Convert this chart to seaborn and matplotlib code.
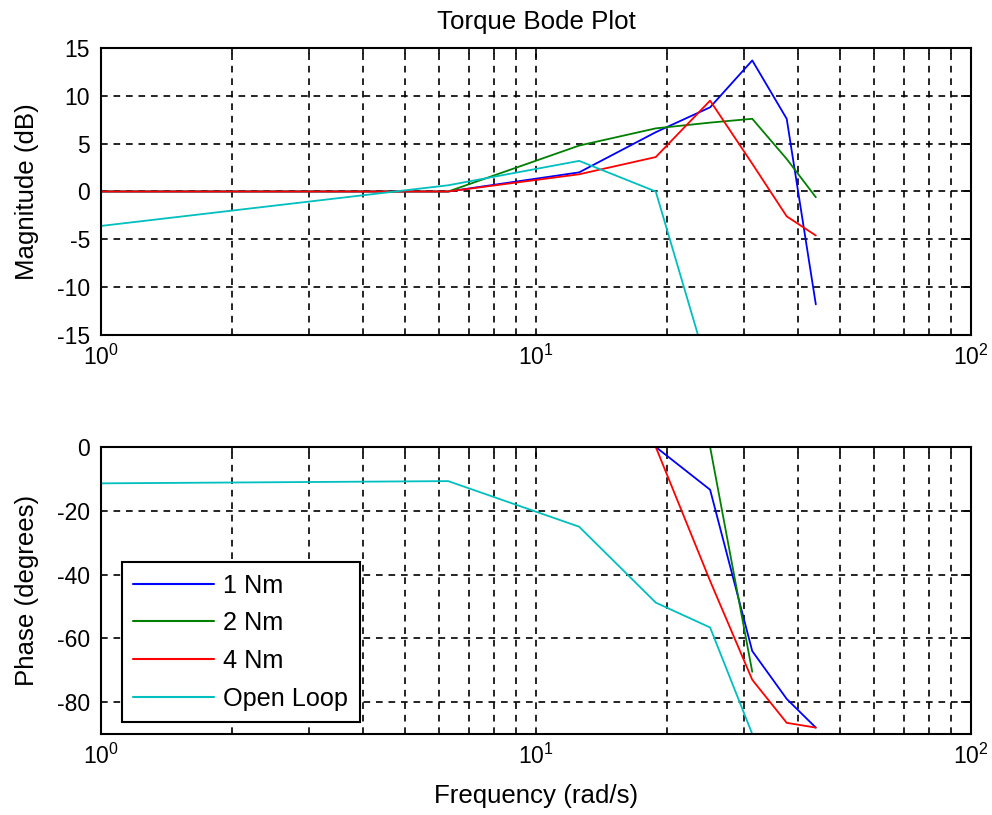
import numpy as np
import pandas as pd
import matplotlib
matplotlib.use("Agg")
import matplotlib.pyplot as plt
import matplotlib.ticker as mticker
import seaborn as sns

# ---- data ----
freq = [1.0, 6.2832, 12.566, 18.850, 25.133, 31.416, 37.699, 43.982]
series = ["1 Nm", "2 Nm", "4 Nm", "Open Loop"]
mag_1nm = [0.0, 0.0, 2.0, 6.2, 8.8, 13.7, 7.6, -11.8]
mag_2nm = [0.0, 0.0, 4.8, 6.6, 7.2, 7.6, 3.4, -0.6]
mag_4nm = [0.0, 0.0, 1.8, 3.6, 9.5, 2.9, -2.6, -4.6]
mag_open = [-3.6, 0.65, 3.2, 0.0, -19.3, np.nan, np.nan, np.nan]
ph_1nm = [0.0, 0.0, 0.0, 0.0, -13.4, -64.0, -79.0, -88.0]
ph_2nm = [0.0, 0.0, 0.0, 0.0, 0.0, -70.5, np.nan, np.nan]
ph_4nm = [0.0, 0.0, 0.0, 0.0, -42.0, -73.0, -86.5, -88.0]
ph_open = [-11.4, -10.7, -25.0, -48.8, -56.6, -90.0, -90.0, -90.0]
mag_ticks = [-15, -10, -5, 0, 5, 10, 15]
ph_ticks = [-80, -60, -40, -20, 0]
colors = ["#0000ff", "#008000", "#ff0000", "#00bfbf"]

rows = []
for name, m, p in zip(series, [mag_1nm, mag_2nm, mag_4nm, mag_open],
                      [ph_1nm, ph_2nm, ph_4nm, ph_open]):
    for f, mv, pv in zip(freq, m, p):
        rows.append({"freq": f, "mag": mv, "phase": pv, "series": name})
df = pd.DataFrame(rows)

sns.set_style("white")
plt.rcParams["font.family"] = ["Liberation Sans", "DejaVu Sans"]
plt.rcParams["mathtext.fontset"] = "custom"
plt.rcParams["mathtext.rm"] = "Liberation Sans"
plt.rcParams["mathtext.it"] = "Liberation Sans"
plt.rcParams["axes.unicode_minus"] = False
plt.rcParams["text.color"] = "black"
plt.rcParams["axes.labelcolor"] = "black"
plt.rcParams["xtick.color"] = "black"
plt.rcParams["ytick.color"] = "black"

W, H = 992, 815
fig = plt.figure(figsize=(W / 100, H / 100), dpi=100)
L, R = 101, 971
ax1 = fig.add_axes([L / W, (H - 335) / H, (R - L) / W, 287 / H])
ax2 = fig.add_axes([L / W, (H - 734) / H, (R - L) / W, 287 / H])

pal = dict(zip(series, colors))
for ax, col in [(ax1, "mag"), (ax2, "phase")]:
    sns.lineplot(data=df.dropna(subset=[col]), x="freq", y=col, hue="series",
                 hue_order=series, palette=pal, estimator=None, sort=False,
                 linewidth=1.3, ax=ax, legend=(ax is ax2))

tick_fs = 16.5
lab_fs = 18.6
leg_fs = 18.2
fmt = mticker.FuncFormatter(lambda v, p: r"$\mathregular{10^{%d}}$" % round(np.log10(v)))
for ax in (ax1, ax2):
    ax.set_xscale("log")
    ax.set_xlim(1, 100)
    ax.xaxis.set_major_locator(mticker.FixedLocator([1, 10, 100]))
    ax.xaxis.set_major_formatter(fmt)
    ax.xaxis.set_minor_locator(mticker.LogLocator(base=10, subs=np.arange(2, 10), numticks=20))
    ax.xaxis.set_minor_formatter(mticker.NullFormatter())
    ax.grid(True, which="major", axis="both", color="black", linestyle=(0, (4, 3.5)), linewidth=1.2)
    ax.grid(True, which="minor", axis="x", color="black", linestyle=(0, (4, 3.5)), linewidth=1.2)
    ax.tick_params(which="both", direction="in", top=True, right=True, labelsize=tick_fs,
                   colors="black", width=1.2)
    ax.tick_params(which="major", length=7)
    ax.tick_params(which="minor", length=4)
    ax.tick_params(axis="x", pad=7)
    ax.tick_params(axis="y", pad=8)
    for s in ax.spines.values():
        s.set_color("black")
        s.set_linewidth(1.5)
    ax.set_axisbelow(True)

ax1.set_ylim(-15, 15)
ax1.set_yticks(mag_ticks)
ax2.set_ylim(-90, 0)
ax2.set_yticks(ph_ticks)

ax1.set_xlabel("")
ax1.set_ylabel("Magnitude (dB)", fontsize=lab_fs)
ax2.set_ylabel("Phase (degrees)", fontsize=lab_fs)
ax2.set_xlabel("Frequency (rad/s)", fontsize=lab_fs)
ax1.yaxis.set_label_coords(-0.071, 0.5)
ax2.yaxis.set_label_coords(-0.071, 0.5)
ax2.xaxis.set_label_coords(0.5, -0.175)
ax1.set_title("Torque Bode Plot", fontsize=lab_fs, pad=14)

leg = ax2.legend(loc="lower left", bbox_to_anchor=((122 - L) / (R - L), (734 - 722) / 287),
                 borderaxespad=0, fontsize=leg_fs, frameon=True, fancybox=False,
                 framealpha=1, edgecolor="black", handlelength=3.2, handletextpad=0.36,
                 labelspacing=0.54, borderpad=0.45, title=None)
leg.get_frame().set_linewidth(1.5)
for line in leg.get_lines():
    line.set_linewidth(1.5)

fig.savefig("out.png", dpi=100)
